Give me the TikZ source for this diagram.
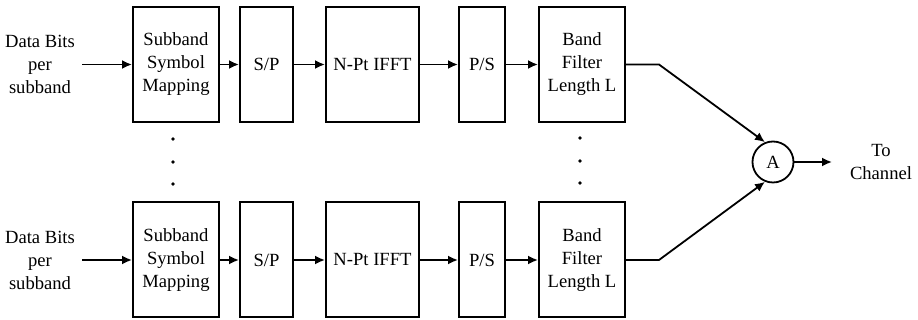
\documentclass[tikz,border=0pt]{standalone}
\usepackage{fontspec}
\setmainfont{Liberation Serif}
\usetikzlibrary{arrows.meta}
\begin{document}
\begin{tikzpicture}[x=0.5pt,y=-0.5pt,
  txt/.style={font=\fontsize{9.3}{11.5}\selectfont},
  blk/.style={draw, line width=1pt, minimum height=57.5pt, inner sep=0pt, align=center, txt},
  lbl/.style={align=center, inner sep=0pt, txt},
  flow/.style={-{Latex[length=5pt,width=4.5pt]}, line width=0.9pt},
  dotmark/.style={circle, fill, inner sep=0pt, minimum size=1.8pt}]
\useasboundingbox (0,0) rectangle (918,320);

% two identical processing chains
\foreach \r/\y in {t/64.5, b/260} {
  \node[blk, minimum width=43pt]   (\r1) at (176,\y)   {Subband\\Symbol\\Mapping};
  \node[blk, minimum width=26.5pt] (\r2) at (266.5,\y) {S/P};
  \node[blk, minimum width=46.5pt] (\r3) at (372.5,\y) {N-Pt IFFT};
  \node[blk, minimum width=23pt]   (\r4) at (482,\y)   {P/S};
  \node[blk, minimum width=43pt]   (\r5) at (582,\y)   {Band\\Filter\\Length L};
  \node[lbl] (\r0) at (40,\y) {Data Bits\\per\\subband};
  \coordinate (\r s) at (82,\y);
  \coordinate (\r k) at (659,\y);
  \draw[flow] (\r s) -- (\r1.west);
  \draw[flow] (\r1.east) -- (\r2.west);
  \draw[flow] (\r2.east) -- (\r3.west);
  \draw[flow] (\r3.east) -- (\r4.west);
  \draw[flow] (\r4.east) -- (\r5.west);
}

% combiner and output
\node[draw, circle, line width=0.9pt, minimum size=20.5pt, inner sep=0pt, txt] (A) at (773,162) {A};
\draw[flow] (t5.east) -- (tk) -- (A.112);
\draw[flow] (b5.east) -- (bk) -- (A.248);
\coordinate (out) at (832,162);
\draw[flow] (A.east) -- (out);
\node[lbl] (ch) at (881,162) {To\\Channel};

% ellipsis between the chains
\foreach \i/\yy in {1/139, 2/162, 3/184} {
  \node[dotmark] (dl\i) at (173,\yy) {};
  \node[dotmark] (dr\i) at (580,\yy-1) {};
}
\end{tikzpicture}
\end{document}
